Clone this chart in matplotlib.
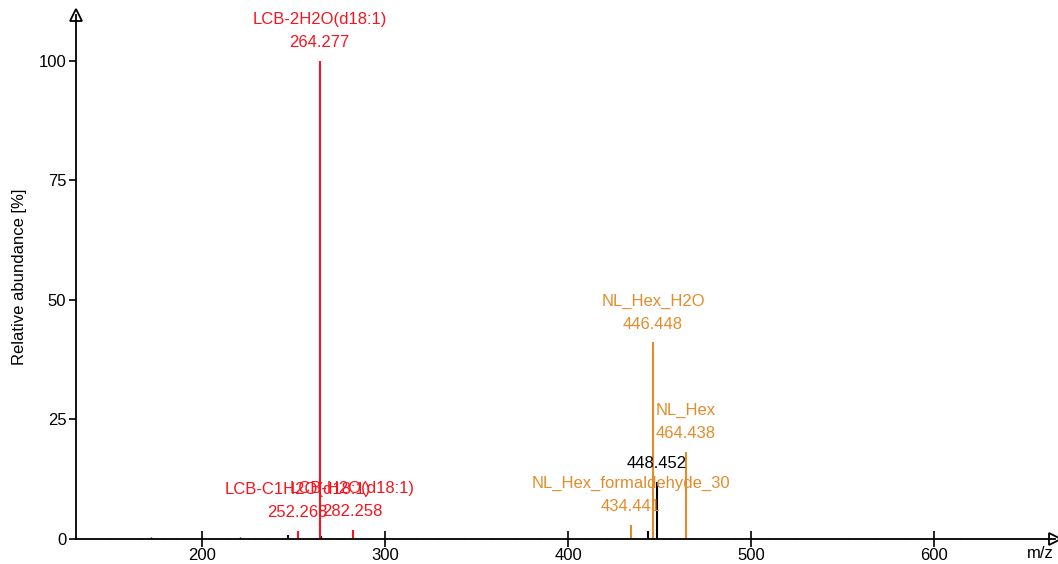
import matplotlib
matplotlib.use("Agg")
import matplotlib.pyplot as plt

plt.rcParams['font.family'] = ['Liberation Sans', 'DejaVu Sans']

# Annotated fragment peaks: m/z, relative abundance, name, group
frag_mz = [264.277, 252.268, 282.258, 446.448, 464.438, 434.441]
frag_int = [100.0, 1.7, 1.9, 41.2, 18.3, 3.0]
frag_name = ["LCB-2H2O(d18:1)", "LCB-C1H2O(d18:1)", "LCB-H2O(d18:1)",
             "NL_Hex_H2O", "NL_Hex", "NL_Hex_formaldehyde_30"]
frag_group = ["lcb", "lcb", "lcb", "nl", "nl", "nl"]

# Unannotated peaks
other_mz = [448.452, 443.4, 246.8, 265.3]
other_int = [12.0, 1.6, 0.8, 0.6]
other_label = ["448.452", "", "", ""]

# Low-level noise along the baseline
noise_mz = [150, 158, 166, 172, 179, 186, 214, 221, 229, 236, 291, 304, 317,
            329, 343, 358, 371, 384, 409, 421, 456, 471, 482, 491, 509, 524,
            538, 553, 568, 584, 596, 614]
noise_int = [0.3, 0.25, 0.3, 0.35, 0.3, 0.25, 0.3, 0.35, 0.3, 0.3, 0.3, 0.25,
             0.3, 0.3, 0.25, 0.3, 0.3, 0.25, 0.3, 0.3, 0.3, 0.25, 0.3, 0.3,
             0.3, 0.25, 0.3, 0.3, 0.25, 0.3, 0.3, 0.25]

colors = {"lcb": "#f7141f", "nl": "#e48c2c"}

fig = plt.figure(figsize=(10.58, 5.64), dpi=100)
W, H = 1058, 564
x0, x1, y0, y1 = 76, 1055, 539, 15
ax = fig.add_axes([x0 / W, (H - y0) / H, (x1 - x0) / W, (y0 - y1) / H])
ax.set_xlim(131.2, 666.0)
ax.set_ylim(0, 109.6)

ax.vlines(noise_mz, 0, noise_int, color="black", lw=1.0)
ax.vlines(other_mz, 0, other_int, color="black", lw=1.5)
for mz, it, g in zip(frag_mz, frag_int, frag_group):
    ax.vlines(mz, 0, it, color=colors[g], lw=1.5)

fs = 12
for mz, it, name, g in zip(frag_mz, frag_int, frag_name, frag_group):
    c = colors[g]
    ax.annotate(f"{mz:.3f}", (mz, it), xytext=(0, 18), textcoords="offset pixels",
                ha="center", va="center", color=c, fontsize=fs)
    ax.annotate(name, (mz, it), xytext=(0, 41), textcoords="offset pixels",
                ha="center", va="center", color=c, fontsize=fs)
for mz, it, lab in zip(other_mz, other_int, other_label):
    if lab:
        ax.annotate(lab, (mz, it), xytext=(0, 18), textcoords="offset pixels",
                    ha="center", va="center", color="black", fontsize=fs)

for s in ["top", "right"]:
    ax.spines[s].set_visible(False)
for s in ["left", "bottom"]:
    ax.spines[s].set_linewidth(1.3)

ax.set_xticks([200, 300, 400, 500, 600])
ax.set_yticks([0, 25, 50, 75, 100])
ax.tick_params(axis="x", direction="inout", length=11, width=1.2, labelsize=12, pad=1)
ax.tick_params(axis="y", direction="out", length=5, width=1.2, labelsize=12, pad=2)

# Open arrowheads at the ends of both axes
ax.plot([1], [0], marker=">", ms=9, mfc="white", mec="black", mew=1.3,
        transform=ax.transAxes, clip_on=False)
ax.plot([0], [1], marker="^", ms=9, mfc="white", mec="black", mew=1.3,
        transform=ax.transAxes, clip_on=False)

ax.set_ylabel("Relative abundance [%]", fontsize=12, labelpad=8)
fig.text(1040 / W, 1 - 553 / H, "m/z", ha="center", va="center", fontsize=12)

fig.savefig("out.png", dpi=100)
